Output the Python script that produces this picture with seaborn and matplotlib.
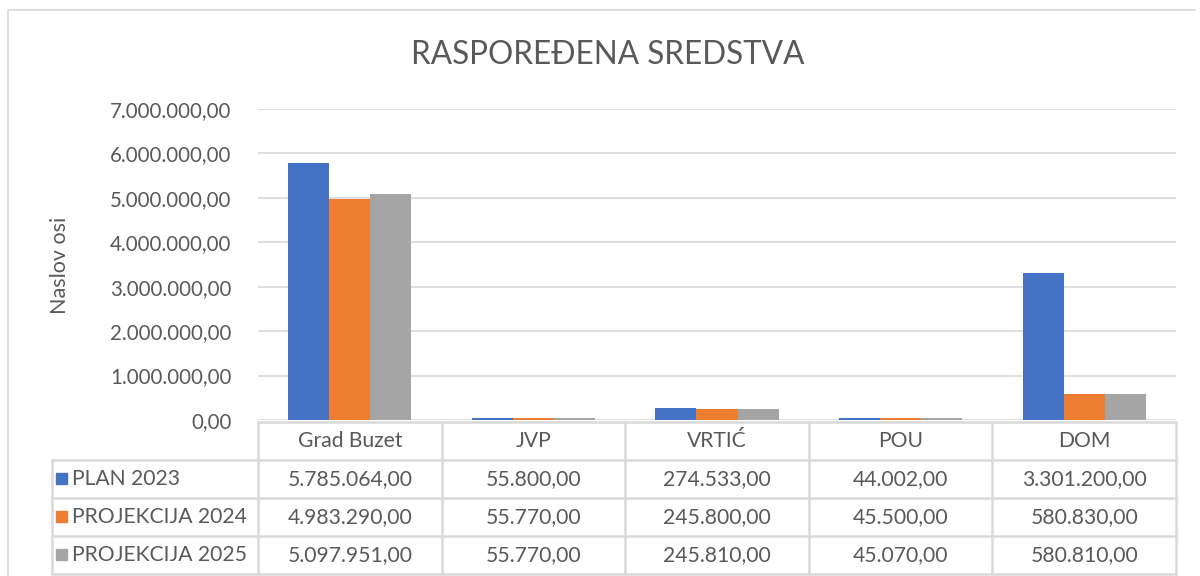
import pandas as pd
import matplotlib.pyplot as plt
import matplotlib.ticker as mticker
import seaborn as sns

# podaci
kategorije = ["Grad Buzet", "JVP", "VRTIĆ", "POU", "DOM"]
serije = ["PLAN 2023", "PROJEKCIJA 2024", "PROJEKCIJA 2025"]
plan_2023 = [5785064.00, 55800.00, 274533.00, 44002.00, 3301200.00]
projekcija_2024 = [4983290.00, 55770.00, 245800.00, 45500.00, 580830.00]
projekcija_2025 = [5097951.00, 55770.00, 245810.00, 45070.00, 580810.00]
y_ticks = [0, 1000000, 2000000, 3000000, 4000000, 5000000, 6000000, 7000000]

boje = ["#4472C4", "#ED7D31", "#A5A5A5"]
siva_txt = "#595959"
siva_lin = "#D9D9D9"

vrijednosti = [plan_2023, projekcija_2024, projekcija_2025]
veri = pd.DataFrame({
    "kategorija": kategorije * 3,
    "serija": [s for s in serije for _ in kategorije],
    "iznos": plan_2023 + projekcija_2024 + projekcija_2025,
})


def hr_format(v, pos=None):
    s = f"{v:,.2f}"
    return s.replace(",", "X").replace(".", ",").replace("X", ".")


sns.set_style("white")
plt.rcParams["font.family"] = ["Lato", "DejaVu Sans"]

W, H = 1200, 576
fig = plt.figure(figsize=(12, 5.76), dpi=100)

# okvir grafikona
okvir = fig.add_axes([0, 0, 1, 1])
okvir.set_xlim(0, W)
okvir.set_ylim(H, 0)
okvir.axis("off")
okvir.plot([8, 8, 1195], [H, 10, 10], color=siva_lin, lw=1.2)

# glavni graf
x0, x1, y_top, y_bot = 258, 1176, 109, 420
ax = fig.add_axes([x0 / W, (H - y_bot) / H, (x1 - x0) / W, (y_bot - y_top) / H])
sns.barplot(data=veri, x="kategorija", y="iznos", hue="serija", palette=boje,
            width=0.67, saturation=1, legend=False, ax=ax, errorbar=None,
            linewidth=0, edgecolor="none")
ax.set_xlim(-0.5, len(kategorije) - 0.5)
ax.set_ylim(0, 7000000)
ax.set_yticks(y_ticks)
ax.yaxis.set_major_formatter(mticker.FuncFormatter(hr_format))
ax.tick_params(axis="y", length=0, pad=19, labelsize=14.8, labelcolor=siva_txt)
ax.set_xticks([])
ax.set_xlabel("")
ax.set_ylabel("")
ax.grid(axis="y", color=siva_lin, lw=1.2)
ax.set_axisbelow(True)
for s in ax.spines.values():
    s.set_visible(False)

fig.text(608 / W, 1 - 55 / H, "RASPOREĐENA SREDSTVA", ha="center", va="center",
         fontsize=22.7, color=siva_txt)
fig.text(60 / W, 1 - 265 / H, "Naslov osi", ha="center", va="center",
         rotation=90, fontsize=15.5, color=siva_txt)

# tablica podataka
sirina = (x1 - x0) / len(kategorije)
stupci = [x0 + i * sirina for i in range(len(kategorije) + 1)]
redovi = [422, 460, 498, 536, 574]
lijevo = 52
lw = 1.8
fs = 15.2
okvir.plot([x0, x1], [redovi[0], redovi[0]], color=siva_lin, lw=lw)
for r in redovi[1:]:
    okvir.plot([lijevo, x1], [r, r], color=siva_lin, lw=lw)
for c in stupci:
    okvir.plot([c, c], [redovi[0], redovi[-1]], color=siva_lin, lw=lw)
okvir.plot([lijevo, lijevo], [redovi[1], redovi[-1]], color=siva_lin, lw=lw)

for i, kat in enumerate(kategorije):
    okvir.text((stupci[i] + stupci[i + 1]) / 2, (redovi[0] + redovi[1]) / 2, kat,
               ha="center", va="center", fontsize=fs, color=siva_txt)
for j, (ser, vals) in enumerate(zip(serije, vrijednosti)):
    yc = (redovi[j + 1] + redovi[j + 2]) / 2
    okvir.add_patch(plt.Rectangle((56, yc - 6), 11, 11, color=boje[j]))
    okvir.text(72, yc, ser, ha="left", va="center", fontsize=fs, color=siva_txt)
    for i, v in enumerate(vals):
        okvir.text((stupci[i] + stupci[i + 1]) / 2, yc, hr_format(v),
                   ha="center", va="center", fontsize=fs, color=siva_txt)

fig.savefig("out.png", dpi=100)
